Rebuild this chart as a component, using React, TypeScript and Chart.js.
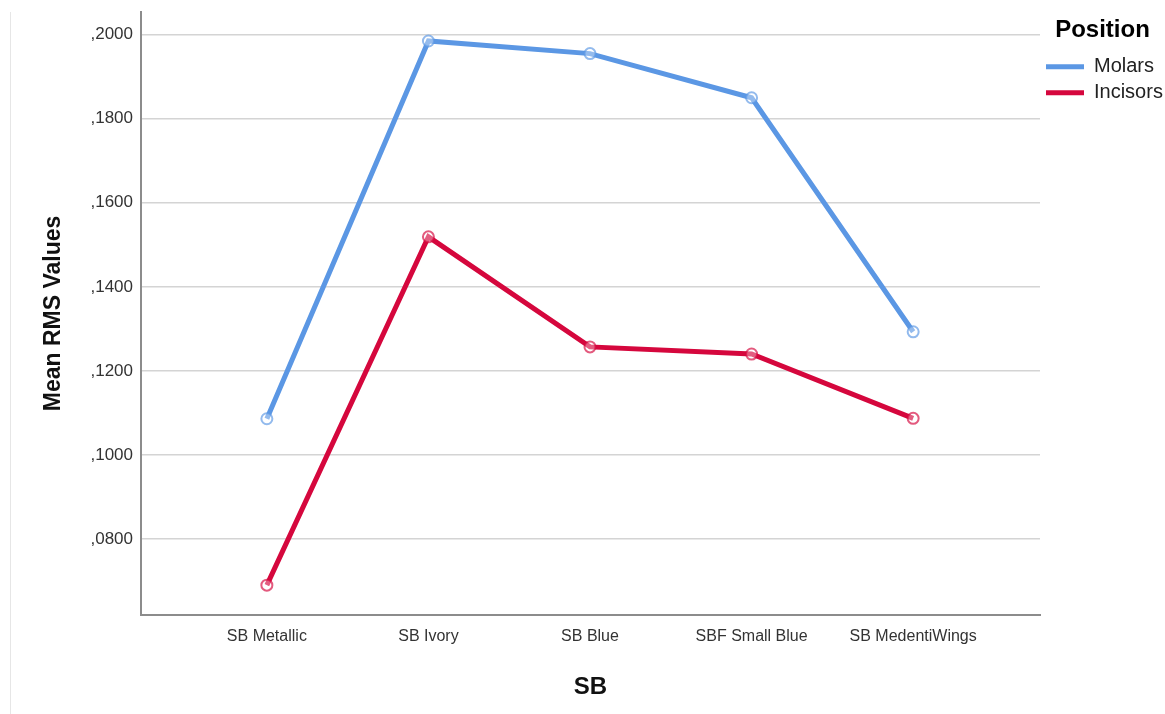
import React, { useEffect, useRef } from "react";
import { Chart, registerables } from "chart.js";

Chart.register(...registerables);

const categories = ["SB Metallic", "SB Ivory", "SB Blue", "SBF Small Blue", "SB MedentiWings"];
const molars = [0.1086, 0.1985, 0.1955, 0.185, 0.1293];
const incisors = [0.069, 0.1519, 0.1257, 0.124, 0.1087];
const seriesNames = ["Molars", "Incisors"];
const seriesColors = ["#5b97e4", "#d5073d"];
const yTicks = [0.08, 0.1, 0.12, 0.14, 0.16, 0.18, 0.2];
const yRange = [0.0619, 0.2054];
const xRange = [-0.779, 4.785];

const fmt = (v: number) => "," + Math.round(v * 10000).toString().padStart(4, "0");

const FONT = "'Liberation Sans', Arial, sans-serif";

export default function App() {
  const ref = useRef<HTMLCanvasElement>(null);

  useEffect(() => {
    if (!ref.current) return;
    Chart.defaults.font.family = FONT;
    const series = [molars, incisors];
    const chart = new Chart(ref.current, {
      type: "line",
      data: {
        datasets: series.map((vals, s) => ({
          label: seriesNames[s],
          data: vals.map((y, i) => ({ x: i, y })),
          borderColor: seriesColors[s],
          backgroundColor: seriesColors[s],
          borderWidth: 5,
          pointRadius: 5.5,
          pointBorderWidth: 2,
          pointBorderColor: seriesColors[s] + "aa",
          pointBackgroundColor: "rgba(255,255,255,0.35)",
          fill: false,
          tension: 0,
        })),
      },
      options: {
        responsive: false,
        animation: false,
        devicePixelRatio: 1,
        layout: { padding: { left: 30, top: 12, right: 0, bottom: 0 } },
        plugins: {
          tooltip: { enabled: false },
          legend: {
            position: "right",
            align: "start",
            maxWidth: 125,
            title: {
              display: true,
              text: "Position",
              color: "#000",
              font: { size: 24, weight: "bold", family: FONT },
              padding: { top: 6, bottom: 4 },
            },
            labels: {
              boxWidth: 38,
              boxHeight: 5,
              padding: 6,
              color: "#222",
              font: { size: 20, family: FONT },
              generateLabels: (c: any) =>
                Chart.defaults.plugins.legend.labels.generateLabels(c).map((l: any) => ({ ...l, lineWidth: 0 })),
            },
          },
        },
        scales: {
          x: {
            type: "linear",
            min: xRange[0],
            max: xRange[1],
            afterBuildTicks: (axis: any) => {
              axis.ticks = categories.map((_, i) => ({ value: i }));
            },
            afterFit: (scale: any) => {
              scale.height = 99;
              scale.paddingLeft = 0;
              scale.paddingRight = 0;
            },
            grid: { display: false, drawTicks: false },
            border: { display: true, color: "#8c8c8c", width: 2 },
            ticks: {
              autoSkip: false,
              maxRotation: 0,
              padding: 12,
              color: "#333",
              font: { size: 16, family: FONT },
              callback: (v: any) => categories[Number(v)] ?? "",
            },
            title: {
              display: true,
              text: "SB",
              color: "#111",
              font: { size: 24, weight: "bold", family: FONT },
              padding: { top: 0, bottom: 12 },
            },
          },
          y: {
            type: "linear",
            min: yRange[0],
            max: yRange[1],
            afterBuildTicks: (axis: any) => {
              axis.ticks = yTicks.map((v) => ({ value: v }));
            },
            afterFit: (scale: any) => {
              scale.width = 111;
              scale.paddingTop = 0;
              scale.paddingBottom = 0;
            },
            grid: { color: "#d4d4d4", lineWidth: 1.5, drawTicks: false },
            border: { display: true, color: "#8c8c8c", width: 2 },
            ticks: {
              padding: 8,
              color: "#333",
              font: { size: 17, family: FONT },
              callback: (v: any) => fmt(Number(v)),
            },
            title: {
              display: true,
              text: "Mean RMS Values",
              color: "#111",
              font: { size: 23, weight: "bold", family: FONT },
              padding: { top: 10, bottom: 0 },
            },
          },
        },
      },
    });
    return () => chart.destroy();
  }, []);

  return (
    <div style={{ position: "fixed", left: 0, top: 0, width: 1165, height: 714, background: "#fff" }}>
      <div style={{ position: "absolute", left: 10, top: 12, width: 1, height: 702, background: "#e6e6e6" }} />
      <canvas ref={ref} width={1165} height={714} style={{ position: "absolute", left: 0, top: 0 }} />
    </div>
  );
}
